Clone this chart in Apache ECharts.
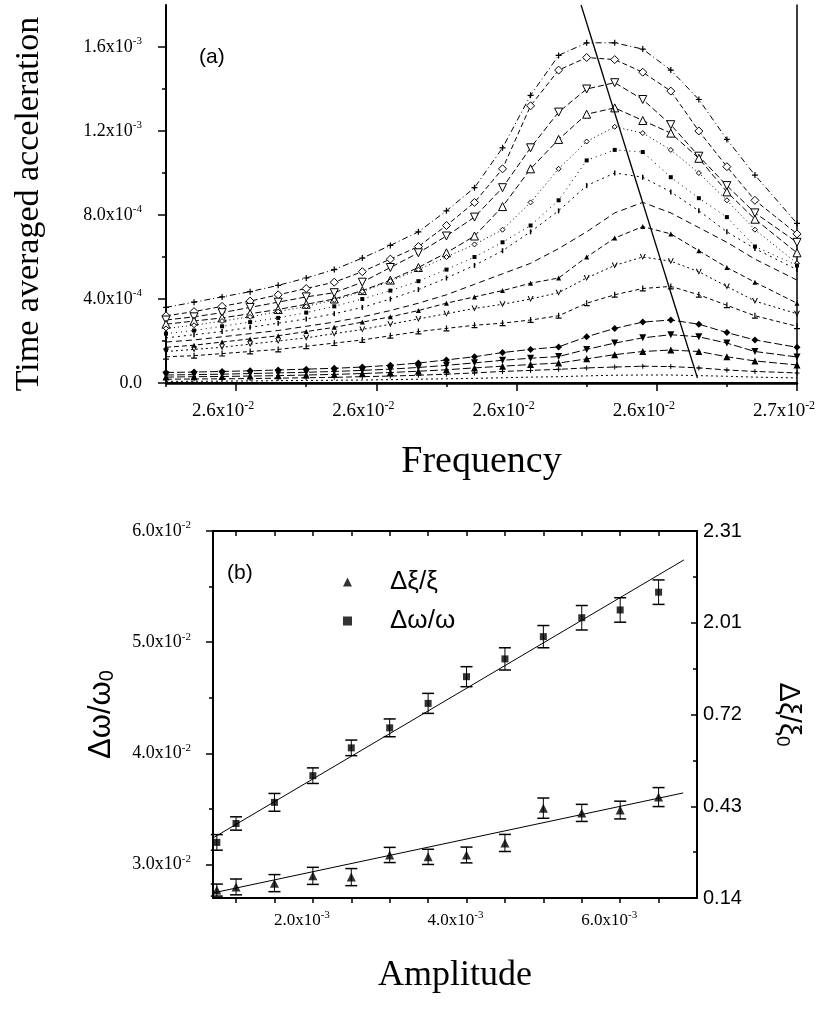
<!DOCTYPE html>
<html><head><meta charset="utf-8">
<script src="https://cdn.jsdelivr.net/npm/echarts@6/dist/echarts.min.js"></script>
<style>html,body{margin:0;padding:0;background:#fff}#c{width:825px;height:1010px}</style>
</head><body><div id="c"></div>
<script>
// ---------- panel (a) data ----------
const FREQ = [0.02605,0.02607,0.02609,0.02611,0.02613,0.02615,0.02617,0.02619,0.02621,0.02623,0.02625,0.02627,0.02629,0.02631,0.02633,0.02635,0.02637,0.02639,0.02641,0.02643,0.02645,0.02647,0.02650];
// time averaged acceleration, units of 1e-4
const A1  = [3.6,3.85,4.1,4.35,4.65,5.0,5.4,5.95,6.55,7.2,8.2,9.3,11.2,13.7,15.6,16.2,16.2,15.9,14.9,13.5,11.6,9.9,7.6];
const A2  = [3.2,3.4,3.65,3.9,4.2,4.5,4.8,5.3,5.9,6.5,7.5,8.6,10.2,13.2,14.9,15.5,15.4,14.8,13.9,12.0,10.3,8.7,7.1];
const A3  = [3.0,3.15,3.35,3.6,3.85,4.1,4.3,4.8,5.5,6.2,7.0,7.9,9.3,11.2,12.9,14.0,14.3,13.5,12.3,10.8,9.4,8.1,6.7];
const A4  = [2.8,2.95,3.1,3.3,3.5,3.75,4.0,4.4,4.9,5.5,6.2,7.0,8.4,10.2,11.6,12.8,13.1,12.5,11.9,10.7,9.1,7.8,6.2];
const A5  = [2.6,2.75,2.95,3.15,3.4,3.65,3.95,4.35,4.85,5.4,6.0,6.6,7.3,8.6,10.2,11.5,12.2,11.9,11.1,10.0,8.7,7.3,5.7];
const A6  = [2.35,2.5,2.7,2.9,3.1,3.35,3.65,4.0,4.4,4.85,5.4,6.0,6.7,7.5,8.7,10.6,11.1,11.0,9.8,8.8,7.9,6.5,5.6];
const A7  = [2.15,2.3,2.45,2.65,2.85,3.05,3.3,3.6,4.0,4.45,5.0,5.6,6.3,7.2,8.2,9.4,10.0,9.8,9.1,8.2,7.2,6.4,5.4];
const A8  = [1.95,2.05,2.2,2.35,2.5,2.7,2.9,3.15,3.45,3.8,4.2,4.7,5.2,5.7,6.4,7.2,8.1,8.6,8.1,7.4,6.7,5.9,4.9];
const A9  = [1.7,1.8,1.95,2.1,2.25,2.45,2.65,2.9,3.15,3.45,3.8,4.1,4.4,4.75,5.0,6.0,6.9,7.45,7.1,6.3,5.5,4.8,3.8];
const A10 = [1.5,1.6,1.7,1.85,2.0,2.15,2.35,2.55,2.8,3.05,3.3,3.55,3.75,4.0,4.3,5.0,5.6,6.0,5.8,5.3,4.6,3.9,3.3];
const A11 = [1.25,1.3,1.4,1.5,1.6,1.75,1.9,2.05,2.25,2.45,2.6,2.75,2.85,3.0,3.2,3.8,4.2,4.5,4.6,4.2,3.7,3.2,2.7];
const A12 = [0.5,0.52,0.55,0.58,0.62,0.66,0.7,0.76,0.84,0.95,1.1,1.25,1.45,1.6,1.72,2.2,2.6,2.9,3.0,2.8,2.4,2.05,1.7];
const A13 = [0.38,0.4,0.42,0.45,0.48,0.51,0.55,0.6,0.66,0.74,0.84,0.96,1.08,1.18,1.26,1.6,1.9,2.15,2.3,2.2,1.9,1.5,1.24];
const A14 = [0.28,0.3,0.31,0.33,0.35,0.38,0.41,0.45,0.5,0.56,0.63,0.72,0.8,0.88,0.95,1.15,1.35,1.5,1.57,1.5,1.25,1.05,0.86];
const A15 = [0.18,0.19,0.2,0.21,0.23,0.25,0.27,0.3,0.33,0.37,0.42,0.48,0.55,0.6,0.65,0.72,0.76,0.8,0.78,0.72,0.62,0.55,0.48];
const A16 = [0.08,0.08,0.09,0.1,0.11,0.12,0.13,0.14,0.16,0.18,0.2,0.22,0.25,0.28,0.3,0.34,0.37,0.38,0.38,0.35,0.32,0.28,0.24];
const A_UNIT = 1e-4;
const PEAK_LINE_F = [0.026346, 0.026429];
const PEAK_LINE_A = [0.0018, 0.000024];

const TOP_X_TICKS = [0.0261,0.0262,0.0263,0.0264,0.0265];
const TOP_X_LABELS = [['2.6','-2'],['2.6','-2'],['2.6','-2'],['2.6','-2'],['2.7','-2']];
const TOP_X_MINOR = [0.02605,0.02615,0.02625,0.02635,0.02645];
const TOP_Y_TICKS = [0,0.0004,0.0008,0.0012,0.0016];
const TOP_Y_LABELS = [['0.0',''],['4.0','-4'],['8.0','-4'],['1.2','-3'],['1.6','-3']];
const TOP_Y_MINOR = [0.0002,0.0006,0.0010,0.0014];

// ---------- panel (b) data ----------
const AMP = [0.00075,0.001,0.0015,0.002,0.0025,0.003,0.0035,0.004,0.0045,0.005,0.0055,0.006,0.0065];
const DW = [0.0320,0.0337,0.0356,0.0380,0.0405,0.0423,0.0445,0.0469,0.0485,0.0505,0.0522,0.0529,0.0545];
const DW_ERR = [0.0007,0.0006,0.0008,0.0007,0.0007,0.0008,0.0009,0.0009,0.0010,0.0010,0.0011,0.0011,0.0011];
const DXI = [0.165,0.175,0.187,0.210,0.206,0.276,0.270,0.276,0.314,0.424,0.409,0.418,0.459];
const DXI_ERR = [0.019,0.025,0.027,0.027,0.027,0.024,0.024,0.025,0.027,0.032,0.027,0.028,0.030];
const DW_FIT_X = [0.0007, 0.00683];
const DW_FIT_Y = [0.0324, 0.0574];
const DXI_FIT_X = [0.0007, 0.00682];
const DXI_FIT_Y = [0.156, 0.472];

const BOT_X_TICKS = [0.001,0.0015,0.002,0.0025,0.003,0.0035,0.004,0.0045,0.005,0.0055,0.006,0.0065];
const BOT_X_LABEL_VALUES = [0.002,0.004,0.006];
const BOT_X_LABELS = [['2.0','-3'],['4.0','-3'],['6.0','-3']];
const BOT_Y_TICKS = [0.03,0.04,0.05,0.06];
const BOT_Y_LABELS = [['3.0','-2'],['4.0','-2'],['5.0','-2'],['6.0','-2']];
const BOT_Y_MINOR = [0.035,0.045,0.055];
const RIGHT_TICKS = [0.14,0.43,0.72,1.01,1.30];
const RIGHT_LABELS = ['0.14','0.43','0.72','2.01','2.31'];
const RIGHT_MINOR = [0.285,0.575,0.865,1.155];

// ---------- build ----------
const SERIF = 'Liberation Serif, Times New Roman, serif';
const SANS = 'Liberation Sans, Arial, sans-serif';
function supFmt(ticks, labels){
  return function(v){
    const i = ticks.findIndex(t => Math.abs(t - v) < 1e-9);
    if (i < 0) return '';
    const m = labels[i][0], s = labels[i][1];
    return s ? '{m|' + m + 'x10}{s|' + s + '}' : '{m|' + m + '}';
  };
}
function supRich(size){
  return {
    m: {fontFamily: SERIF, fontSize: size, color: '#000', lineHeight: size + 4},
    s: {fontFamily: SERIF, fontSize: Math.round(size*0.62), color: '#000', verticalAlign: 'top', lineHeight: size*0.62}
  };
}
const BLACK = '#000';
const hideAll = {axisLine:{show:false}, axisTick:{show:false}, axisLabel:{show:false}, splitLine:{show:false}};

const curveStyles = [
  {d: A1,  sym: 'path://M4,0H6V10H4ZM0,4H10V6H0Z', size: 6, open: false, dash: [6,3,1,3]},
  {d: A2,  sym: 'diamond', size: 8, open: true, dash: [5,3]},
  {d: A3,  sym: 'triangle', rot: 180, size: 8, open: true, dash: [6,3]},
  {d: A4,  sym: 'triangle', size: 8, open: true, dash: [6,3]},
  {d: A5,  sym: 'diamond', size: 5, open: true, dash: [1,3]},
  {d: A6,  sym: 'rect', size: 4, open: false, dash: [1,4]},
  {d: A7,  sym: 'rect', size: [1.5,5], open: false, dash: [2,4]},
  {d: A8,  sym: 'none', size: 0, open: false, dash: [6,4]},
  {d: A9,  sym: 'triangle', size: 5, open: false, dash: [5,3]},
  {d: A10, sym: 'path://M0,0H2L5,7L8,0H10L5,10Z', size: 6, open: false, dash: [2,3]},
  {d: A11, sym: 'path://M4,0H6V8H10V10H0V8H4Z', size: 6, open: false, dash: [4,3]},
  {d: A12, sym: 'diamond', size: 7, open: false, dash: [8,3]},
  {d: A13, sym: 'triangle', rot: 180, size: 7, open: false, dash: [8,3]},
  {d: A14, sym: 'triangle', size: 7, open: false, dash: [8,3]},
  {d: A15, sym: 'path://M4,0H6V10H4ZM0,4H10V6H0Z', size: 5, open: false, dash: [6,3]},
  {d: A16, sym: 'none', size: 0, open: false, dash: [2,3]}
];

const series = curveStyles.map((c, k) => ({
  type: 'line', name: 'curve' + (k+1), xAxisIndex: 0, yAxisIndex: 0,
  data: FREQ.map((f, i) => [f, c.d[i] * A_UNIT]),
  symbol: c.sym, symbolSize: c.size, symbolRotate: c.rot || 0, showSymbol: c.sym !== 'none',
  lineStyle: {color: BLACK, width: 1, type: c.dash},
  itemStyle: c.open ? {color: '#fff', borderColor: BLACK, borderWidth: 1} : {color: BLACK, borderWidth: 0},
  z: 3, silent: true
}));
series.push({
  type: 'line', name: 'peak', xAxisIndex: 0, yAxisIndex: 0,
  data: PEAK_LINE_F.map((f, i) => [f, PEAK_LINE_A[i]]),
  symbol: 'none', lineStyle: {color: BLACK, width: 1.3}, z: 4, clip: false
});

function errRender(params, api){
  const x = api.value(0), lo = api.value(1), hi = api.value(2);
  const p1 = api.coord([x, hi]), p2 = api.coord([x, lo]);
  const w = 6;
  return {type: 'group', children: [
    {type: 'line', shape: {x1: p1[0], y1: p1[1], x2: p2[0], y2: p2[1]}, style: {stroke: BLACK, lineWidth: 1}},
    {type: 'line', shape: {x1: p1[0]-w, y1: p1[1], x2: p1[0]+w, y2: p1[1]}, style: {stroke: BLACK, lineWidth: 1.5}},
    {type: 'line', shape: {x1: p2[0]-w, y1: p2[1], x2: p2[0]+w, y2: p2[1]}, style: {stroke: BLACK, lineWidth: 1.5}}
  ]};
}
series.push({
  type: 'custom', name: 'dwErr', xAxisIndex: 3, yAxisIndex: 3, renderItem: errRender,
  encode: {x: 0, y: [1, 2]},
  data: AMP.map((a, i) => [a, DW[i] - DW_ERR[i], DW[i] + DW_ERR[i]]), z: 3
});
series.push({
  type: 'custom', name: 'dxiErr', xAxisIndex: 3, yAxisIndex: 5, renderItem: errRender,
  encode: {x: 0, y: [1, 2]},
  data: AMP.map((a, i) => [a, DXI[i] - DXI_ERR[i], DXI[i] + DXI_ERR[i]]), z: 3
});
series.push({
  type: 'line', name: 'dwFit', xAxisIndex: 3, yAxisIndex: 3,
  data: DW_FIT_X.map((x, i) => [x, DW_FIT_Y[i]]), symbol: 'none',
  lineStyle: {color: BLACK, width: 1}, z: 2
});
series.push({
  type: 'line', name: 'dxiFit', xAxisIndex: 3, yAxisIndex: 5,
  data: DXI_FIT_X.map((x, i) => [x, DXI_FIT_Y[i]]), symbol: 'none',
  lineStyle: {color: BLACK, width: 1}, z: 2
});
series.push({
  type: 'scatter', name: 'Δξ/ξ', xAxisIndex: 3, yAxisIndex: 5,
  data: AMP.map((a, i) => [a, DXI[i]]), symbol: 'triangle', symbolSize: 9,
  itemStyle: {color: BLACK}, z: 4
});
series.push({
  type: 'scatter', name: 'Δω/ω', xAxisIndex: 3, yAxisIndex: 3,
  data: AMP.map((a, i) => [a, DW[i]]), symbol: 'rect', symbolSize: 7,
  itemStyle: {color: BLACK}, z: 4
});

const option = {
  animation: false,
  backgroundColor: '#fff',
  title: [
    {text: '(a)', left: 194, top: 42, textStyle: {fontFamily: SANS, fontSize: 21, fontWeight: 'normal', color: BLACK}},
    {text: '(b)', left: 222, top: 558, textStyle: {fontFamily: SANS, fontSize: 21, fontWeight: 'normal', color: BLACK}}
  ],
  legend: {
    data: ['Δξ/ξ', 'Δω/ω'], orient: 'vertical', left: 338, top: 564,
    itemWidth: 9, itemHeight: 9, itemGap: 13,
    textStyle: {fontFamily: SANS, fontSize: 26, color: BLACK, padding: [0, 0, 0, 33]},
    selectedMode: false
  },
  grid: [
    {left: 166, top: 5, width: 631, height: 378},
    {left: 213, top: 531, width: 484, height: 367}
  ],
  xAxis: [
    {gridIndex: 0, type: 'value', min: 0.02605, max: 0.0265, position: 'bottom',
     name: 'Frequency', nameLocation: 'middle', nameGap: 60,
     nameTextStyle: {fontFamily: SERIF, fontSize: 38, color: BLACK},
     axisLine: {lineStyle: {color: BLACK, width: 2}},
     axisTick: {customValues: TOP_X_TICKS, length: 8, lineStyle: {color: BLACK, width: 1.5}},
     axisLabel: {customValues: TOP_X_TICKS, formatter: supFmt(TOP_X_TICKS, TOP_X_LABELS), rich: supRich(19), margin: 17, padding: [0, 26, 0, 0]},
     splitLine: {show: false}},
    {gridIndex: 0, type: 'value', min: 0.02605, max: 0.0265, position: 'bottom',
     axisLine: {show: false},
     axisTick: {customValues: TOP_X_MINOR, length: 4, lineStyle: {color: BLACK, width: 1.5}},
     axisLabel: {show: false}, splitLine: {show: false}},
    Object.assign({gridIndex: 0, type: 'value', min: 0.02605, max: 0.0265, position: 'top'}, hideAll,
      {axisLine: {show: true, lineStyle: {color: BLACK, width: 2.5}}}),
    {gridIndex: 1, type: 'value', min: 0.0007, max: 0.007, position: 'bottom',
     name: 'Amplitude', nameLocation: 'middle', nameGap: 60,
     nameTextStyle: {fontFamily: SERIF, fontSize: 36, color: BLACK},
     axisLine: {lineStyle: {color: BLACK, width: 2}},
     axisTick: {customValues: BOT_X_TICKS, length: 5, lineStyle: {color: BLACK, width: 1.5}},
     axisLabel: {customValues: BOT_X_LABEL_VALUES, formatter: supFmt(BOT_X_LABEL_VALUES, BOT_X_LABELS), rich: supRich(17), margin: 12, padding: [0, 22, 0, 0]},
     splitLine: {show: false}},
    {gridIndex: 1, type: 'value', min: 0.0007, max: 0.007, position: 'top',
     axisLine: {lineStyle: {color: BLACK, width: 2}},
     axisTick: {inside: true, customValues: BOT_X_TICKS, length: 5, lineStyle: {color: BLACK, width: 1.5}},
     axisLabel: {show: false}, splitLine: {show: false}}
  ],
  yAxis: [
    {gridIndex: 0, type: 'value', min: 0, max: 0.0018, position: 'left',
     name: 'Time averaged acceleration', nameLocation: 'middle', nameGap: 120,
     nameTextStyle: {fontFamily: SERIF, fontSize: 34, color: BLACK, padding: [0, 20, 0, 0]},
     axisLine: {lineStyle: {color: BLACK, width: 2}},
     axisTick: {customValues: TOP_Y_TICKS, length: 8, lineStyle: {color: BLACK, width: 1.5}},
     axisLabel: {customValues: TOP_Y_TICKS, formatter: supFmt(TOP_Y_TICKS, TOP_Y_LABELS), rich: supRich(18), margin: 24},
     splitLine: {show: false}},
    {gridIndex: 0, type: 'value', min: 0, max: 0.0018, position: 'left',
     axisLine: {show: false},
     axisTick: {customValues: TOP_Y_MINOR, length: 4, lineStyle: {color: BLACK, width: 1.5}},
     axisLabel: {show: false}, splitLine: {show: false}},
    Object.assign({gridIndex: 0, type: 'value', min: 0, max: 0.0018, position: 'right'}, hideAll,
      {axisLine: {show: true, lineStyle: {color: BLACK, width: 1.5}}}),
    {gridIndex: 1, type: 'value', min: 0.027, max: 0.06, position: 'left',
     name: '{a|Δω/ω}{b|0}', nameLocation: 'middle', nameGap: 96,
     nameTextStyle: {rich: {a: {fontFamily: SANS, fontSize: 31, color: BLACK}, b: {fontFamily: SANS, fontSize: 20, color: BLACK, verticalAlign: 'bottom'}}},
     axisLine: {lineStyle: {color: BLACK, width: 2}},
     axisTick: {customValues: BOT_Y_TICKS, length: 7, lineStyle: {color: BLACK, width: 1.5}},
     axisLabel: {customValues: BOT_Y_TICKS, formatter: supFmt(BOT_Y_TICKS, BOT_Y_LABELS), rich: supRich(18), margin: 22},
     splitLine: {show: false}},
    {gridIndex: 1, type: 'value', min: 0.027, max: 0.06, position: 'left',
     axisLine: {show: false},
     axisTick: {customValues: BOT_Y_MINOR, length: 4, lineStyle: {color: BLACK, width: 1.5}},
     axisLabel: {show: false}, splitLine: {show: false}},
    {gridIndex: 1, type: 'value', min: 0.14, max: 1.30, position: 'right',
     name: '{a|Δξ/ξ}{b|0}', nameLocation: 'middle', nameGap: 76, nameRotate: -90,
     nameTextStyle: {rich: {a: {fontFamily: SANS, fontSize: 29, color: BLACK}, b: {fontFamily: SANS, fontSize: 19, color: BLACK, verticalAlign: 'bottom'}}},
     axisLine: {lineStyle: {color: BLACK, width: 2}},
     axisTick: {inside: true, customValues: RIGHT_TICKS, length: 6, lineStyle: {color: BLACK, width: 1.5}},
     axisLabel: {customValues: RIGHT_TICKS, formatter: v => { const i = RIGHT_TICKS.findIndex(t => Math.abs(t - v) < 1e-9); return i < 0 ? '' : RIGHT_LABELS[i]; },
       fontFamily: 'Liberation Sans Narrow, ' + SANS, fontSize: 20, color: BLACK, margin: 6},
     splitLine: {show: false}},
    {gridIndex: 1, type: 'value', min: 0.14, max: 1.30, position: 'right',
     axisLine: {show: false},
     axisTick: {inside: true, customValues: RIGHT_MINOR, length: 4, lineStyle: {color: BLACK, width: 1.5}},
     axisLabel: {show: false}, splitLine: {show: false}}
  ],
  series: series
};
const chart = echarts.init(document.getElementById('c'), null, {renderer: 'canvas'});
chart.setOption(option);
</script>
</body></html>
